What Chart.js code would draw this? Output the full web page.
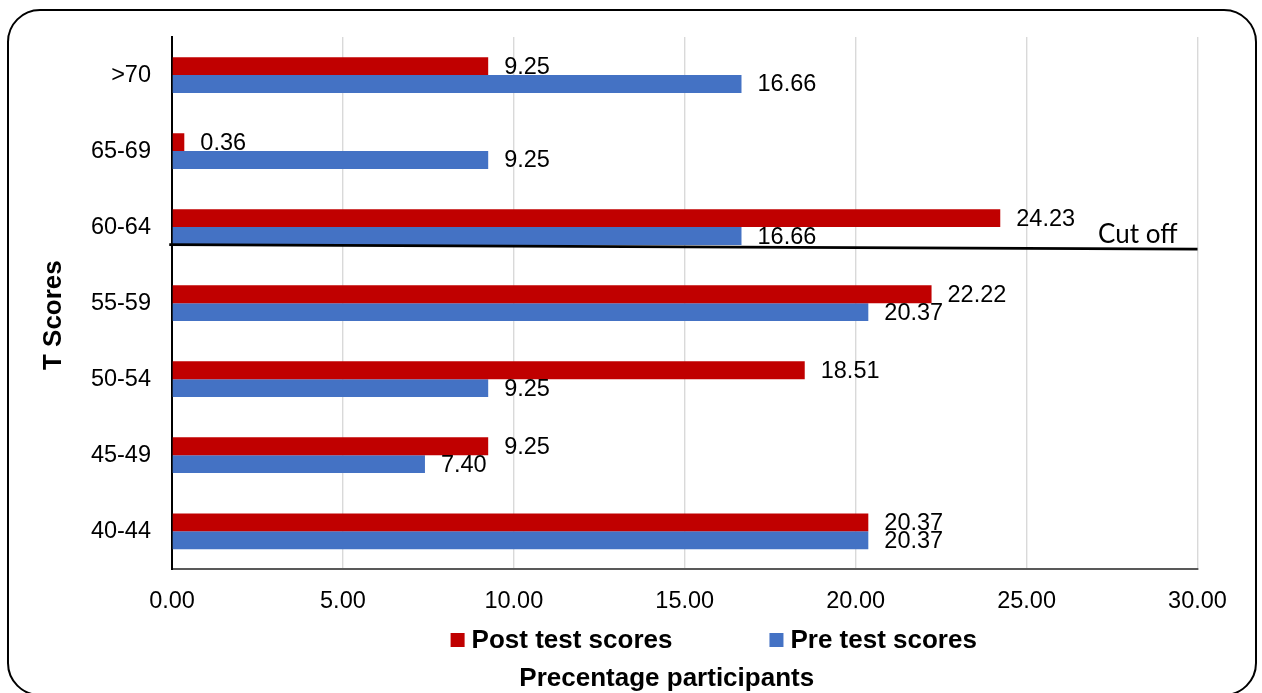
<!DOCTYPE html>
<html>
<head>
<meta charset="utf-8">
<title>T Scores – pre and post test</title>
<script src="https://cdn.jsdelivr.net/npm/chart.js@4.4.1/dist/chart.umd.min.js"></script>
<style>
  html, body { margin: 0; padding: 0; background: #ffffff; }
  #wrap { width: 1262px; height: 693px; }
</style>
</head>
<body>
<div id="wrap"><canvas id="chart" width="1262" height="693"></canvas></div>
<script>
// ---- data -------------------------------------------------------------
const categories = ['>70', '65-69', '60-64', '55-59', '50-54', '45-49', '40-44'];
const postTestScores = [9.25, 0.36, 24.23, 22.22, 18.51, 9.25, 20.37];
const preTestScores = [16.66, 9.25, 16.66, 20.37, 9.25, 7.40, 20.37];
const seriesNames = ['Post test scores', 'Pre test scores'];
const xTickValues = [0, 5, 10, 15, 20, 25, 30];
const axisTitles = { x: 'Precentage participants', y: 'T Scores' };
// cut-off marker, given in axis units (x: percentage, y: category index)
const cutOffLabel = 'Cut off';
const cutOffStart = { x: -0.08, y: 2.23 };
const cutOffEnd = { x: 30, y: 2.29 };

// ---- styling ----------------------------------------------------------
const FONT = "'Liberation Sans', Arial, Helvetica, sans-serif";
const RED = '#C00000';
const BLUE = '#4472C4';

// white page plus the rounded frame around the whole figure
const framePlugin = {
  id: 'frame',
  beforeDraw(chart) {
    const ctx = chart.ctx;
    ctx.save();
    ctx.fillStyle = '#ffffff';
    ctx.fillRect(0, 0, chart.width, chart.height);
    ctx.restore();
  },
  afterDraw(chart) {
    const ctx = chart.ctx;
    ctx.save();
    ctx.strokeStyle = '#000000';
    ctx.lineWidth = 2;
    ctx.beginPath();
    ctx.roundRect(8, 10, chart.width - 14, 685, 32);
    ctx.stroke();
    ctx.restore();
  }
};

// value printed just past the end of every bar
const valueLabelPlugin = {
  id: 'valueLabels',
  afterDatasetsDraw(chart) {
    const ctx = chart.ctx;
    ctx.save();
    ctx.font = `23.5px ${FONT}`;
    ctx.fillStyle = '#000000';
    ctx.textAlign = 'left';
    ctx.textBaseline = 'middle';
    chart.data.datasets.forEach((ds, i) => {
      const meta = chart.getDatasetMeta(i);
      meta.data.forEach((bar, j) => {
        ctx.fillText(Number(ds.data[j]).toFixed(2), bar.x + 16, bar.y + 1);
      });
    });
    ctx.restore();
  }
};

// cut-off line and its caption
const cutOffPlugin = {
  id: 'cutOff',
  afterDatasetsDraw(chart) {
    const { ctx, scales: { x, y } } = chart;
    const x1 = x.getPixelForValue(cutOffStart.x), y1 = y.getPixelForValue(cutOffStart.y);
    const x2 = x.getPixelForValue(cutOffEnd.x), y2 = y.getPixelForValue(cutOffEnd.y);
    ctx.save();
    ctx.strokeStyle = '#000000';
    ctx.lineWidth = 2.6;
    ctx.beginPath();
    ctx.moveTo(x1, y1);
    ctx.lineTo(x2, y2);
    ctx.stroke();
    ctx.font = `26px Lato, 'Open Sans', sans-serif`;
    ctx.fillStyle = '#000000';
    ctx.textAlign = 'right';
    ctx.textBaseline = 'alphabetic';
    ctx.fillText(cutOffLabel, x2 - 20, y2 - 6);
    ctx.restore();
  }
};

// legend row and both axis titles
const captionPlugin = {
  id: 'captions',
  afterDraw(chart) {
    const { ctx, chartArea } = chart;
    const colors = [RED, BLUE];
    ctx.save();
    ctx.font = `bold 26px ${FONT}`;
    ctx.fillStyle = '#000000';
    ctx.textBaseline = 'alphabetic';

    // legend
    const box = 14, gap = 7, spacing = 97;
    const widths = seriesNames.map(n => ctx.measureText(n).width);
    const total = widths.reduce((a, w) => a + box + gap + w, 0) + spacing;
    const centre = (chartArea.left + chartArea.right) / 2 + 29;
    let lx = centre - total / 2;
    const baseY = 648;
    seriesNames.forEach((name, i) => {
      ctx.fillStyle = colors[i];
      ctx.fillRect(lx, baseY - 15, box, box);
      ctx.fillStyle = '#000000';
      ctx.textAlign = 'left';
      ctx.fillText(name, lx + box + gap, baseY);
      lx += box + gap + widths[i] + spacing;
    });

    // x axis title
    ctx.textAlign = 'center';
    ctx.fillText(axisTitles.x, (chartArea.left + chartArea.right) / 2 - 18, 686);

    // y axis title
    ctx.translate(61, (chartArea.top + chartArea.bottom) / 2 + 12);
    ctx.rotate(-Math.PI / 2);
    ctx.fillText(axisTitles.y, 0, 0);
    ctx.restore();
  }
};

Chart.defaults.font.family = FONT;
Chart.defaults.color = '#000000';

new Chart(document.getElementById('chart'), {
  type: 'bar',
  data: {
    labels: categories,
    datasets: [
      { label: seriesNames[0], data: postTestScores, backgroundColor: RED, borderWidth: 0 },
      { label: seriesNames[1], data: preTestScores, backgroundColor: BLUE, borderWidth: 0 }
    ]
  },
  options: {
    indexAxis: 'y',
    responsive: false,
    animation: false,
    devicePixelRatio: 1,
    layout: { padding: { left: 0, right: 64.5, top: 37, bottom: 0 } },
    datasets: { bar: { categoryPercentage: 0.47, barPercentage: 1.0 } },
    plugins: {
      legend: { display: false },
      title: { display: false },
      tooltip: { enabled: false }
    },
    scales: {
      x: {
        type: 'linear',
        min: xTickValues[0],
        max: xTickValues[xTickValues.length - 1],
        afterBuildTicks(scale) {
          scale.ticks = xTickValues.map(v => ({ value: v }));
        },
        afterFit(scale) { scale.height = 123.7; },
        ticks: {
          font: { size: 23.5 },
          color: '#000000',
          padding: 18,
          maxRotation: 0,
          callback: v => Number(v).toFixed(2)
        },
        grid: { color: '#d9d9d9', lineWidth: 1.4, drawTicks: false },
        border: { color: '#595959', width: 2 }
      },
      y: {
        afterFit(scale) { scale.width = 172; },
        ticks: { font: { size: 23.5 }, color: '#000000', padding: 21 },
        grid: { display: false, drawTicks: false },
        border: { color: '#000000', width: 2 }
      }
    }
  },
  plugins: [framePlugin, valueLabelPlugin, cutOffPlugin, captionPlugin]
});
</script>
</body>
</html>
